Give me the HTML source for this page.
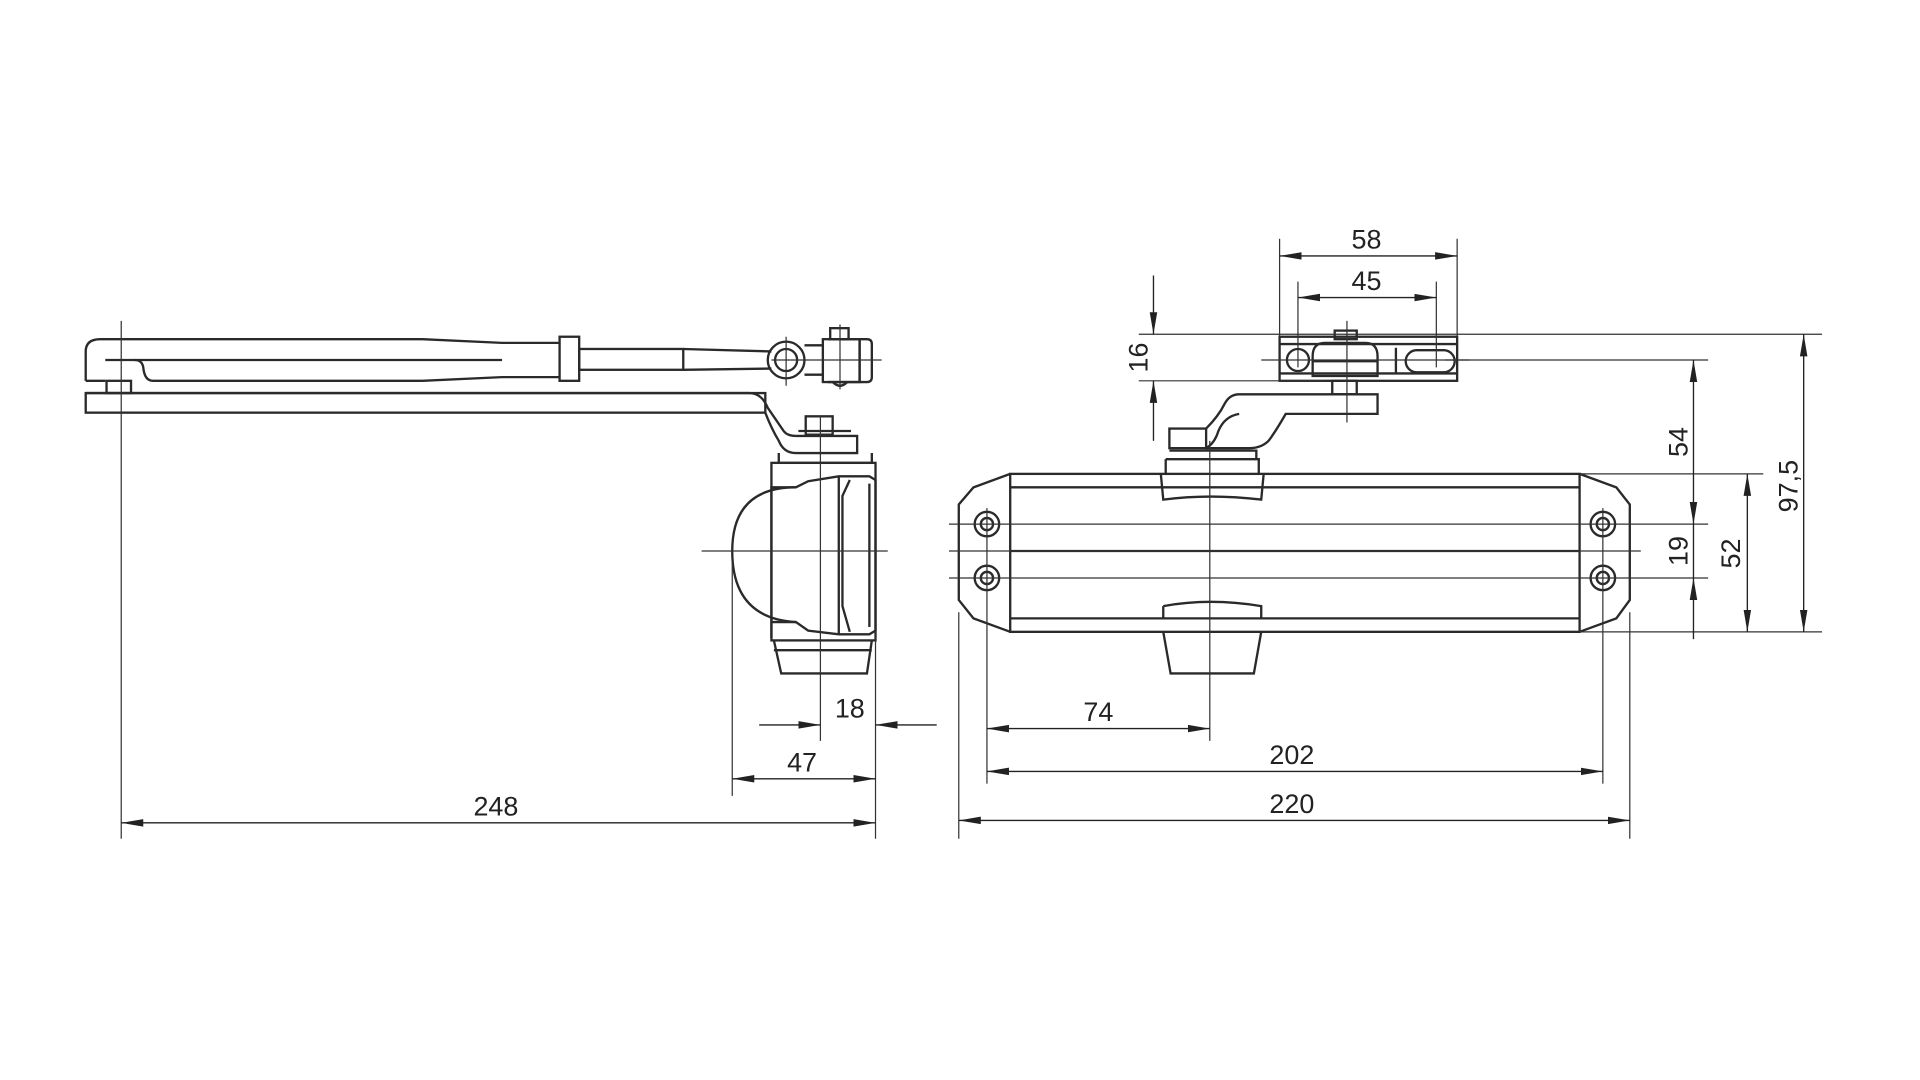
<!DOCTYPE html>
<html><head><meta charset="utf-8"><style>
html,body{margin:0;padding:0;background:#fff;width:1920px;height:1080px;overflow:hidden}
svg{display:block}
text{font-family:"Liberation Sans",sans-serif;font-size:22px;fill:#222}
</style></head><body>
<svg width="1920" height="1080" viewBox="0 0 1568 882" xmlns="http://www.w3.org/2000/svg">
<defs>
<marker id="a" viewBox="0 0 20 8" refX="20" refY="4" markerWidth="18" markerHeight="7" markerUnits="userSpaceOnUse" orient="auto-start-reverse" preserveAspectRatio="none"><path d="M0,0.5 L20,4 L0,7.5 z" fill="#222"/></marker>
</defs>
<g fill="none" stroke="#2a2a2a" stroke-width="1.9">
<!-- LEFT VIEW -->
<path d="M70,311 V287 Q70,277 82,277 H345 L410,280 H457"/>
<path d="M86,294 H110 Q116,294 117,300 Q118,311 125,311 H345 L410,308 H457"/>
<path d="M70,311 H86"/><path d="M110,294 H345 L410,294"/>
<rect x="457" y="275" width="16" height="36"/>
<rect x="473" y="285" width="85" height="17"/>
<path d="M558,285 L630,287 M558,302 L630,301"/>
<circle cx="642" cy="294" r="15"/><circle cx="642" cy="294" r="9"/>
<path d="M657,282 H672 M657,306 H672"/>
<rect x="672" y="277" width="30" height="35"/>
<path d="M676,277 H708 Q712,277 712,281 V308 Q712,312 708,312 H676"/>
<path d="M702,277 V312"/>
<rect x="678" y="268" width="15" height="9"/>
<path d="M680,312 Q686,318 692,312"/>
<rect x="87" y="311" width="20" height="10"/>
<rect x="70" y="321" width="555" height="16"/>
<path d="M70,321 H612 Q622,321 627,333 L640,352 Q643,356 650,356"/>
<path d="M625,337 Q630,350 636,360 Q640,370 650,370 H700 V356 H650"/>
<rect x="658" y="340" width="22" height="15"/>
<path d="M652,352 H695"/>
<path d="M636,370 V378 H712 V370"/>
<rect x="630" y="378" width="85" height="145"/>
<path d="M630,521 V398 H650 L660,393 L685,389 H710 L715,392 V515 L710,518 H685 L660,515 L650,508 H630"/>
<path d="M650,398 Q598,398 598,450 Q598,505 650,508"/>
<path d="M685,389 V518 M710,395 V512 M694,392 L688,405 V495 L694,516"/>
<path d="M632,523 L638,550 H708 L712,523 M632,531 H712"/>
<!-- RIGHT VIEW -->
<rect x="825" y="387" width="465" height="129"/>
<path d="M825,398 H1290 M825,450 H1290 M825,505 H1290"/>
<path d="M825,387 L795,398 L783,412 V490 L795,505 L825,516"/>
<path d="M1290,387 L1320,398 L1331,412 V490 L1320,505 L1290,516"/>
<circle cx="806" cy="428" r="10"/><circle cx="806" cy="428" r="5"/>
<circle cx="806" cy="472" r="10"/><circle cx="806" cy="472" r="5"/>
<circle cx="1309" cy="428" r="10"/><circle cx="1309" cy="428" r="5"/>
<circle cx="1309" cy="472" r="10"/><circle cx="1309" cy="472" r="5"/>
<path d="M948,387 L950,408 Q988,403 1030,408 L1032,387"/>
<path d="M952,375 H1028 V387 M952,375 V387 M955,368 H1026 V375"/>
<path d="M950,495 Q988,488 1030,495 V505 M950,495 V505"/>
<path d="M950,516 L956,550 H1024 L1030,516"/>
<rect x="955" y="350" width="30" height="16"/>
<path d="M985,350 Q995,340 1000,330 Q1004,322 1012,322 H1125 V338 H1050 Q1042,352 1036,360 Q1030,366 1020,366 H985"/>
<path d="M1012,338 Q1000,340 995,352 Q992,362 985,366"/>
<rect x="1045" y="275" width="145" height="36"/>
<path d="M1045,281 H1190 M1045,305 H1190"/>
<path d="M1072,307 V291 Q1072,280 1082,280 H1115 Q1125,280 1125,291 V307 Z M1072,295 H1125"/>
<rect x="1090" y="270" width="18" height="7"/>
<rect x="1088" y="311" width="20" height="11"/>
<circle cx="1060" cy="294" r="9"/>
<rect x="1148" y="286" width="40" height="18" rx="9"/>
<path d="M1140,284 V305"/>
</g>
<!-- center / extension lines -->
<g fill="none" stroke="#333" stroke-width="1">
<path d="M99,262 V685 M670,340 V605 M573,450 H725 M598,460 V650 M715,520 V685"/>
<path d="M630,294 H720 M642,275 V315 M686,265 V318"/>
<path d="M988,360 V605 M1100,262 V345 M775,450 H1340 M775,428 H1395 M775,472 H1395"/>
<path d="M806,415 V640 M783,500 V685 M1309,415 V640 M1331,500 V685"/>
<path d="M1045,195 V275 M1190,195 V275 M1060,230 V300 M1173,230 V300 M1030,294 H1200"/>
<path d="M930,273 H1488 M930,311 H1080 M1180,294 H1395 M1290,387 H1440 M1290,516 H1488"/>
</g>
<!-- dimension lines -->
<g fill="none" stroke="#222" stroke-width="1.1">
<path d="M620,592 H670" marker-end="url(#a)"/><path d="M765,592 H715" marker-end="url(#a)"/>
<path d="M598,636 H715" marker-start="url(#a)" marker-end="url(#a)"/>
<path d="M99,672 H715" marker-start="url(#a)" marker-end="url(#a)"/>
<path d="M806,595 H988" marker-start="url(#a)" marker-end="url(#a)"/>
<path d="M806,630 H1309" marker-start="url(#a)" marker-end="url(#a)"/>
<path d="M783,670 H1331" marker-start="url(#a)" marker-end="url(#a)"/>
<path d="M1045,209 H1190" marker-start="url(#a)" marker-end="url(#a)"/>
<path d="M1060,243 H1173" marker-start="url(#a)" marker-end="url(#a)"/>
<path d="M942,225 V273" marker-end="url(#a)"/><path d="M942,360 V311" marker-end="url(#a)"/>
<path d="M1383,294 V428" marker-start="url(#a)" marker-end="url(#a)"/>
<path d="M1383,428 V472" />
<path d="M1383,522 V472" marker-end="url(#a)"/>
<path d="M1427,387 V516" marker-start="url(#a)" marker-end="url(#a)"/>
<path d="M1473,273 V516" marker-start="url(#a)" marker-end="url(#a)"/>
</g>
<text x="694" y="586" text-anchor="middle">18</text>
<text x="655" y="630" text-anchor="middle">47</text>
<text x="405" y="666" text-anchor="middle">248</text>
<text x="897" y="589" text-anchor="middle">74</text>
<text x="1055" y="624" text-anchor="middle">202</text>
<text x="1055" y="664" text-anchor="middle">220</text>
<text x="1116" y="203" text-anchor="middle">58</text>
<text x="1116" y="237" text-anchor="middle">45</text>
<text transform="translate(937,292) rotate(-90)" text-anchor="middle">16</text>
<text transform="translate(1378,361) rotate(-90)" text-anchor="middle">54</text>
<text transform="translate(1378,450) rotate(-90)" text-anchor="middle">19</text>
<text transform="translate(1421,452) rotate(-90)" text-anchor="middle">52</text>
<text transform="translate(1468,397) rotate(-90)" text-anchor="middle">97,5</text>
</svg>
</body></html>
